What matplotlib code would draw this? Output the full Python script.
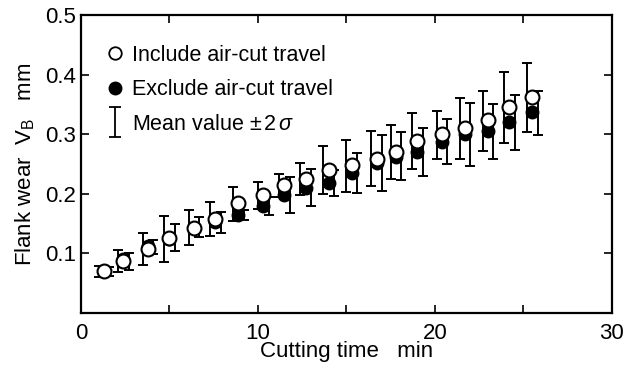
import numpy as np
import matplotlib
matplotlib.use("Agg")
import matplotlib.pyplot as plt
from matplotlib.lines import Line2D
from matplotlib.path import Path

plt.rcParams['font.family'] = ['Liberation Sans', 'DejaVu Sans']
plt.rcParams['mathtext.fontset'] = 'custom'
plt.rcParams['mathtext.rm'] = 'Liberation Sans'
plt.rcParams['mathtext.it'] = 'Liberation Sans:italic'

# cutting time, min
t = [1.3, 2.4, 3.8, 5.0, 6.4, 7.6, 8.9, 10.3, 11.5, 12.7,
     14.0, 15.3, 16.7, 17.8, 19.0, 20.4, 21.7, 23.0, 24.2, 25.5]

# include air-cut travel (open circles): mean, lower, upper
inc_mean = [0.070, 0.088, 0.108, 0.126, 0.143, 0.157, 0.185, 0.198, 0.215, 0.225,
            0.240, 0.248, 0.259, 0.270, 0.288, 0.300, 0.310, 0.323, 0.345, 0.362]
inc_lo = [0.061, 0.068, 0.080, 0.086, 0.114, 0.130, 0.155, 0.175, 0.195, 0.198,
          0.200, 0.203, 0.213, 0.224, 0.241, 0.259, 0.259, 0.271, 0.285, 0.303]
inc_hi = [0.079, 0.106, 0.134, 0.163, 0.172, 0.187, 0.212, 0.220, 0.234, 0.252,
          0.280, 0.291, 0.305, 0.315, 0.335, 0.339, 0.360, 0.372, 0.404, 0.420]

# exclude air-cut travel (filled circles): mean, lower, upper
exc_mean = [0.070, 0.090, 0.113, 0.125, 0.143, 0.152, 0.165, 0.180, 0.198, 0.210,
            0.218, 0.235, 0.252, 0.262, 0.270, 0.287, 0.300, 0.305, 0.320, 0.337]
exc_lo = [0.062, 0.072, 0.099, 0.104, 0.127, 0.134, 0.156, 0.164, 0.168, 0.180,
          0.196, 0.202, 0.205, 0.223, 0.230, 0.250, 0.247, 0.259, 0.274, 0.298]
exc_hi = [0.078, 0.100, 0.122, 0.149, 0.161, 0.169, 0.172, 0.195, 0.228, 0.241,
          0.240, 0.268, 0.298, 0.304, 0.310, 0.326, 0.352, 0.350, 0.365, 0.373]

t = np.array(t)
inc_mean, inc_lo, inc_hi = map(np.array, (inc_mean, inc_lo, inc_hi))
exc_mean, exc_lo, exc_hi = map(np.array, (exc_mean, exc_lo, exc_hi))

fig = plt.figure(figsize=(6.27, 3.74), dpi=100)
ax = fig.add_axes([0.129, 0.163, 0.847, 0.797])

dx = 0.3
ax.errorbar(t - dx, inc_mean, yerr=[inc_mean - inc_lo, inc_hi - inc_mean],
            fmt='none', ecolor='k', elinewidth=1.4, capsize=3.5, capthick=1.4, zorder=2)
ax.errorbar(t + dx, exc_mean, yerr=[exc_mean - exc_lo, exc_hi - exc_mean],
            fmt='none', ecolor='k', elinewidth=1.4, capsize=3.5, capthick=1.4, zorder=2)
ax.plot(t, exc_mean, 'o', color='k', ms=9, ls='none', zorder=3)
ax.plot(t, inc_mean, 'o', mfc='white', mec='k', mew=1.5, ms=10, ls='none', zorder=4)

ax.set_xlim(0, 30)
ax.set_ylim(0, 0.5)
ax.set_xticks([0, 10, 20, 30])
ax.set_xticks([5, 15, 25], minor=True)
ax.set_yticks([0.1, 0.2, 0.3, 0.4, 0.5])
ax.set_yticklabels(['0.1', '0.2', '0.3', '0.4', '0.5'])
ax.tick_params(which='both', direction='in', top=True, right=True,
               length=6, width=1.2, labelsize=16)
ax.tick_params(axis='x', pad=7)
for s in ax.spines.values():
    s.set_linewidth(1.6)

ax.set_xlabel('Cutting time   min', fontsize=16, labelpad=-2)
ax.set_ylabel(r'Flank wear  $\mathrm{V_B}$   mm', fontsize=16, labelpad=6)

# legend symbol for the error bar
bar = Path([(-0.4, -1), (0.4, -1), (0, -1), (0, 1), (-0.4, 1), (0.4, 1)],
           [Path.MOVETO, Path.LINETO, Path.MOVETO, Path.LINETO, Path.MOVETO, Path.LINETO])
handles = [
    Line2D([], [], marker='o', ls='none', mfc='white', mec='k', mew=1.3, ms=9),
    Line2D([], [], marker='o', ls='none', color='k', ms=9),
    Line2D([], [], marker=bar, ls='none', color='k', mew=1.3, ms=22),
]
labels = ['Include air-cut travel', 'Exclude air-cut travel',
          r'Mean value $\pm\,2\,\sigma$']
ax.legend(handles, labels, loc='upper left', frameon=False, fontsize=15.5,
          handlelength=0.8, handletextpad=0.4, labelspacing=0.62,
          borderaxespad=0.3, bbox_to_anchor=(0.02, 0.95))

fig.savefig('out.png', dpi=100)
